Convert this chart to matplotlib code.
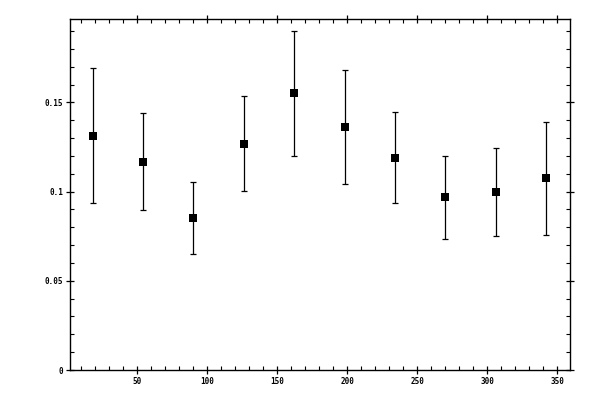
import matplotlib
matplotlib.use("Agg")
import matplotlib.pyplot as plt
from matplotlib.ticker import MultipleLocator, FixedFormatter, FixedLocator

x = [18, 54, 90, 126, 162, 198, 234, 270, 306, 342]
y = [0.1312, 0.1165, 0.0855, 0.1267, 0.1554, 0.1362, 0.1188, 0.0968, 0.0996, 0.1075]
y_low = [0.0934, 0.0895, 0.0652, 0.1002, 0.1199, 0.1041, 0.0934, 0.0737, 0.0754, 0.0759]
y_high = [0.1693, 0.1439, 0.1056, 0.1535, 0.1901, 0.1681, 0.1447, 0.1199, 0.1244, 0.1391]

xticks = [50, 100, 150, 200, 250, 300, 350]
xticklabels = ["50", "100", "150", "200", "250", "300", "350"]
yticks = [0, 0.05, 0.1, 0.15]
yticklabels = ["0", "0.05", "0.1", "0.15"]

fig = plt.figure(figsize=(6, 4), dpi=100)
ax = fig.add_axes([70/600, 1 - 370/400, 500/600, 351/400])

err = [[yv - lo for yv, lo in zip(y, y_low)], [hi - yv for yv, hi in zip(y, y_high)]]
ax.errorbar(x, y, yerr=err, fmt='none', ecolor='black', elinewidth=0.9,
            capsize=2.5, capthick=0.9)
ax.plot(x, y, 's', color='black', ms=5.5, markeredgewidth=0, linestyle='none')

ax.set_xlim(1.8, 359)
ax.set_ylim(0, 0.1968)

ax.xaxis.set_major_locator(FixedLocator(xticks))
ax.xaxis.set_major_formatter(FixedFormatter(xticklabels))
ax.yaxis.set_major_locator(FixedLocator(yticks))
ax.yaxis.set_major_formatter(FixedFormatter(yticklabels))
ax.xaxis.set_minor_locator(MultipleLocator(10))
ax.yaxis.set_minor_locator(MultipleLocator(0.01))

for s in ax.spines.values():
    s.set_linewidth(1.0)

ax.tick_params(which='major', direction='inout', length=6, width=0.9,
               top=True, right=True, labelsize=5.5, pad=2)
ax.tick_params(which='minor', direction='in', length=3, width=0.8,
               top=True, right=True)
for lab in ax.get_xticklabels() + ax.get_yticklabels():
    lab.set_family('DejaVu Sans Mono')
    lab.set_fontweight('bold')

fig.savefig("out.png", dpi=100)
